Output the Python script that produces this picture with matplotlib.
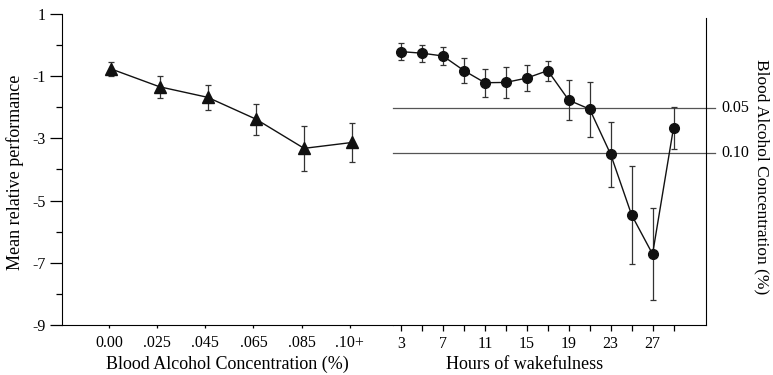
import numpy as np
import matplotlib.pyplot as plt
import matplotlib as mpl
from matplotlib.ticker import FixedLocator

mpl.rcParams['font.family'] = 'Liberation Serif'
mpl.rcParams['axes.unicode_minus'] = False

# left panel: alcohol
bac_labels = ['0.00', '.025', '.045', '.065', '.085', '.10+']
bac_mean = [-0.77, -1.34, -1.68, -2.38, -3.32, -3.13]
bac_err = [0.23, 0.35, 0.40, 0.50, 0.72, 0.63]

# right panel: wakefulness
hours = [3, 5, 7, 9, 11, 13, 15, 17, 19, 21, 23, 25, 27, 29]
wake_mean = [-0.21, -0.26, -0.35, -0.82, -1.21, -1.20, -1.06, -0.82,
             -1.77, -2.06, -3.51, -5.46, -6.72, -2.66]
wake_err = [0.28, 0.27, 0.28, 0.41, 0.45, 0.50, 0.43, 0.32,
            0.64, 0.88, 1.05, 1.57, 1.48, 0.67]
bac_levels = ['0.05', '0.10']
bac_level_y = [-2.01, -3.48]

W, H = 773, 375
fig = plt.figure(figsize=(W / 100, H / 100), dpi=100)
ax1 = fig.add_axes([62 / W, 1 - 325 / H, (392.7 - 62) / W, (325 - 14) / H])
ax2 = fig.add_axes([392.7 / W, 1 - 325 / H, (706 - 392.7) / W, (325 - 14) / H])

ink = '#111111'
xpos = np.arange(len(bac_labels))
ax1.errorbar(xpos + 0.05, bac_mean, yerr=bac_err, fmt='-', color=ink, lw=1.0,
             ecolor='#333333', elinewidth=0.9, capsize=2.5, capthick=0.9,
             marker='^', markersize=8)
ax1.set_xlim(-0.975, 5.89)
ax1.set_ylim(-9, 1)
ax1.set_xticks(xpos)
ax1.set_xticklabels(bac_labels)
ax1.set_yticks([1, -1, -3, -5, -7, -9])
ax1.yaxis.set_minor_locator(FixedLocator([0, -2, -4, -6, -8]))
ax1.tick_params(axis='y', which='major', length=9, width=0.9, labelsize=11.5, pad=3)
ax1.tick_params(axis='y', which='minor', length=4, width=0.9)
ax1.tick_params(axis='x', length=2.5, width=0.9, labelsize=11.5, pad=5)
ax1.spines['top'].set_visible(False)
ax1.spines['right'].set_visible(False)
ax1.set_xlabel('Blood Alcohol Concentration (%)', fontsize=13)
ax1.xaxis.set_label_coords(0.5, -0.10)
ax1.set_ylabel('Mean relative performance', fontsize=13)
ax1.yaxis.set_label_coords(-0.115, 0.49)

for y, lab in zip(bac_level_y, bac_levels):
    ax2.axhline(y, xmin=0, xmax=1.03, color='#555555', lw=0.9, clip_on=False)
    ax2.text(1.05, y, lab, transform=ax2.get_yaxis_transform(),
             va='center', ha='left', fontsize=11.5)

ax2.errorbar(hours, wake_mean, yerr=wake_err, fmt='-', color=ink, lw=1.0,
             ecolor='#333333', elinewidth=0.9, capsize=2.5, capthick=0.9,
             marker='o', markersize=7)
ax2.set_xlim(2.2, 32.1)
ax2.set_ylim(-9, 1)
ax2.set_xticks([3, 7, 11, 15, 19, 23, 27])
ax2.xaxis.set_minor_locator(FixedLocator([5, 9, 13, 17, 21, 25, 29]))
ax2.tick_params(axis='x', which='both', length=4, width=0.9, labelsize=11.5, pad=4)
ax2.set_yticks([])
ax2.spines['top'].set_visible(False)
ax2.spines['left'].set_visible(False)
ax2.spines['right'].set_bounds(-9, 0.87)
ax2.set_xlabel('Hours of wakefulness', fontsize=13)
ax2.xaxis.set_label_coords((525 - 392.7) / (706 - 392.7), -0.10)

fig.text(762 / W, 1 - 177 / H, 'Blood Alcohol Concentration (%)', rotation=-90,
         ha='center', va='center', fontsize=12.5)

fig.savefig('out.png', dpi=100)
